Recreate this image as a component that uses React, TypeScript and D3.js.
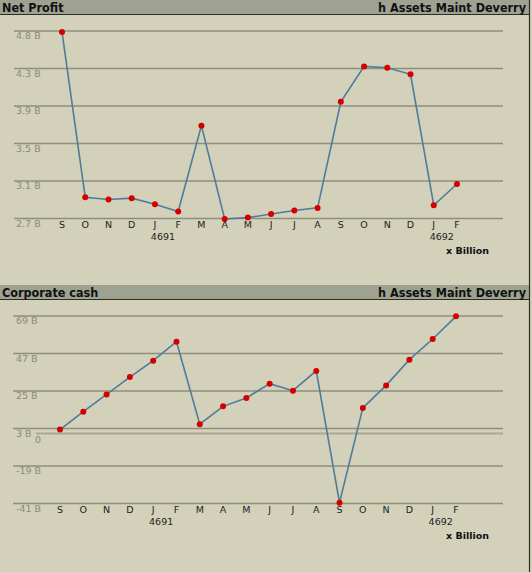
import React from "react";
import * as d3 from "d3";

const months = ["S","O","N","D","J","F","M","A","M","J","J","A","S","O","N","D","J","F"];
const yearLabels = [{ idx: 4, label: "4691" }, { idx: 16, label: "4692" }];

const profitTickLabels = ["2.7 B","3.1 B","3.5 B","3.9 B","4.3 B","4.8 B"];
const profitValues = [4.79, 2.92, 2.895, 2.91, 2.84, 2.76, 3.73, 2.675, 2.69, 2.73, 2.77, 2.80, 4.00, 4.40, 4.385, 4.31, 2.83, 3.07];

const cashTickValues = [-41, -19, 3, 25, 47, 69];
const cashTickLabels = ["-41 B","-19 B","3 B","25 B","47 B","69 B"];
const cashValues = [2.4, 12.9, 23, 33.2, 42.8, 53.9, 5.5, 16, 20.9, 29.3, 25.2, 36.8, -40.5, 15.1, 28.3, 43.4, 55.5, 68.8];

const BG = "#d3d1b9";
const HEADER = "#9ea291";
const GRID = "#8e8e7e";
const LINE = "#4f7b9c";
const DOT = "#d40000";
const TICK = "#8a8a80";
const FONT = "'DejaVu Sans', Verdana, sans-serif";
const HFONT = "'DejaVu Sans Condensed', 'DejaVu Sans', sans-serif";

type PanelProps = {
  top: number;
  title: string;
  values: number[];
  tickVals: number[];
  tickLabels: string[];
  domain: [number, number];
  xRange: [number, number];
  gridX0: number;
  zero?: boolean;
};

function Panel({ top, title, values, tickVals, tickLabels, domain, xRange, gridX0, zero }: PanelProps) {
  const plotTop = top + 31;
  const plotBottom = top + 218.5;
  const x = d3.scalePoint<number>().domain(d3.range(months.length)).range(xRange);
  const y = d3.scaleLinear().domain(domain).range([plotBottom, plotTop]);
  const line = d3.line<number>().x((_, i) => x(i)!).y((d) => y(d));
  return (
    <g>
      <rect x={0} y={top} width={530} height={14} fill={HEADER} />
      <line x1={0} x2={530} y1={top + 14.5} y2={top + 14.5} stroke="#2e2e28" strokeWidth={1.2} />
      <text x={2} y={top + 11.5} fontFamily={HFONT} fontWeight="bold" fontSize={12.5} fill="#111">{title}</text>
      <text x={526} y={top + 11.5} textAnchor="end" fontFamily={HFONT} fontWeight="bold" fontSize={12.5} fill="#111">h Assets Maint Deverry</text>
      {tickVals.map((v, i) => (
        <g key={i}>
          <line x1={gridX0} x2={503} y1={y(v)} y2={y(v)} stroke={GRID} strokeWidth={1.3} />
          <text x={16} y={y(v) + 8} fontFamily={FONT} fontSize={9.5} fill={TICK}>{tickLabels[i]}</text>
        </g>
      ))}
      {zero && (
        <g>
          <line x1={36} x2={503} y1={y(0)} y2={y(0)} stroke="#a9a896" strokeWidth={2} />
          <text x={38} y={y(0) + 9} textAnchor="middle" fontFamily={FONT} fontSize={9.5} fill={TICK}>0</text>
        </g>
      )}
      <path d={line(values) || ""} fill="none" stroke={LINE} strokeWidth={1.6} />
      {values.map((v, i) => (
        <circle key={i} cx={x(i)} cy={y(v)} r={3} fill={DOT} />
      ))}
      {months.map((m, i) => (
        <text key={i} x={x(i)} y={plotBottom + 9.5} textAnchor="middle" fontFamily={FONT} fontSize={9.5} fill="#222">{m}</text>
      ))}
      {yearLabels.map((yl) => (
        <text key={yl.label} x={x(yl.idx)! + 8} y={plotBottom + 21} textAnchor="middle" fontFamily={FONT} fontSize={9.5} fill="#222">{yl.label}</text>
      ))}
      <text x={446} y={plotBottom + 35.5} fontFamily={FONT} fontWeight="bold" fontSize={9.5} fill="#111">x Billion</text>
    </g>
  );
}

export default function App() {
  const pMin = 2.68, pMax = 4.8;
  const profitTicks = d3.range(6).map((i) => pMin + (i * (pMax - pMin)) / 5);
  return (
    <svg width={532} height={572} style={{ position: "absolute", left: 0, top: 0, display: "block" }}>
      <rect x={0} y={0} width={532} height={572} fill={BG} />
      <Panel
        top={0}
        title="Net Profit"
        values={profitValues}
        tickVals={profitTicks}
        tickLabels={profitTickLabels}
        domain={[pMin, pMax]}
        xRange={[62, 457]}
        gridX0={14}
      />
      <Panel
        top={285}
        title="Corporate cash"
        values={cashValues}
        tickVals={cashTickValues}
        tickLabels={cashTickLabels}
        domain={[-41, 69]}
        xRange={[60, 456]}
        gridX0={13}
        zero
      />
      <line x1={529.5} x2={529.5} y1={0} y2={572} stroke="#2e2e28" strokeWidth={1.2} />
    </svg>
  );
}
